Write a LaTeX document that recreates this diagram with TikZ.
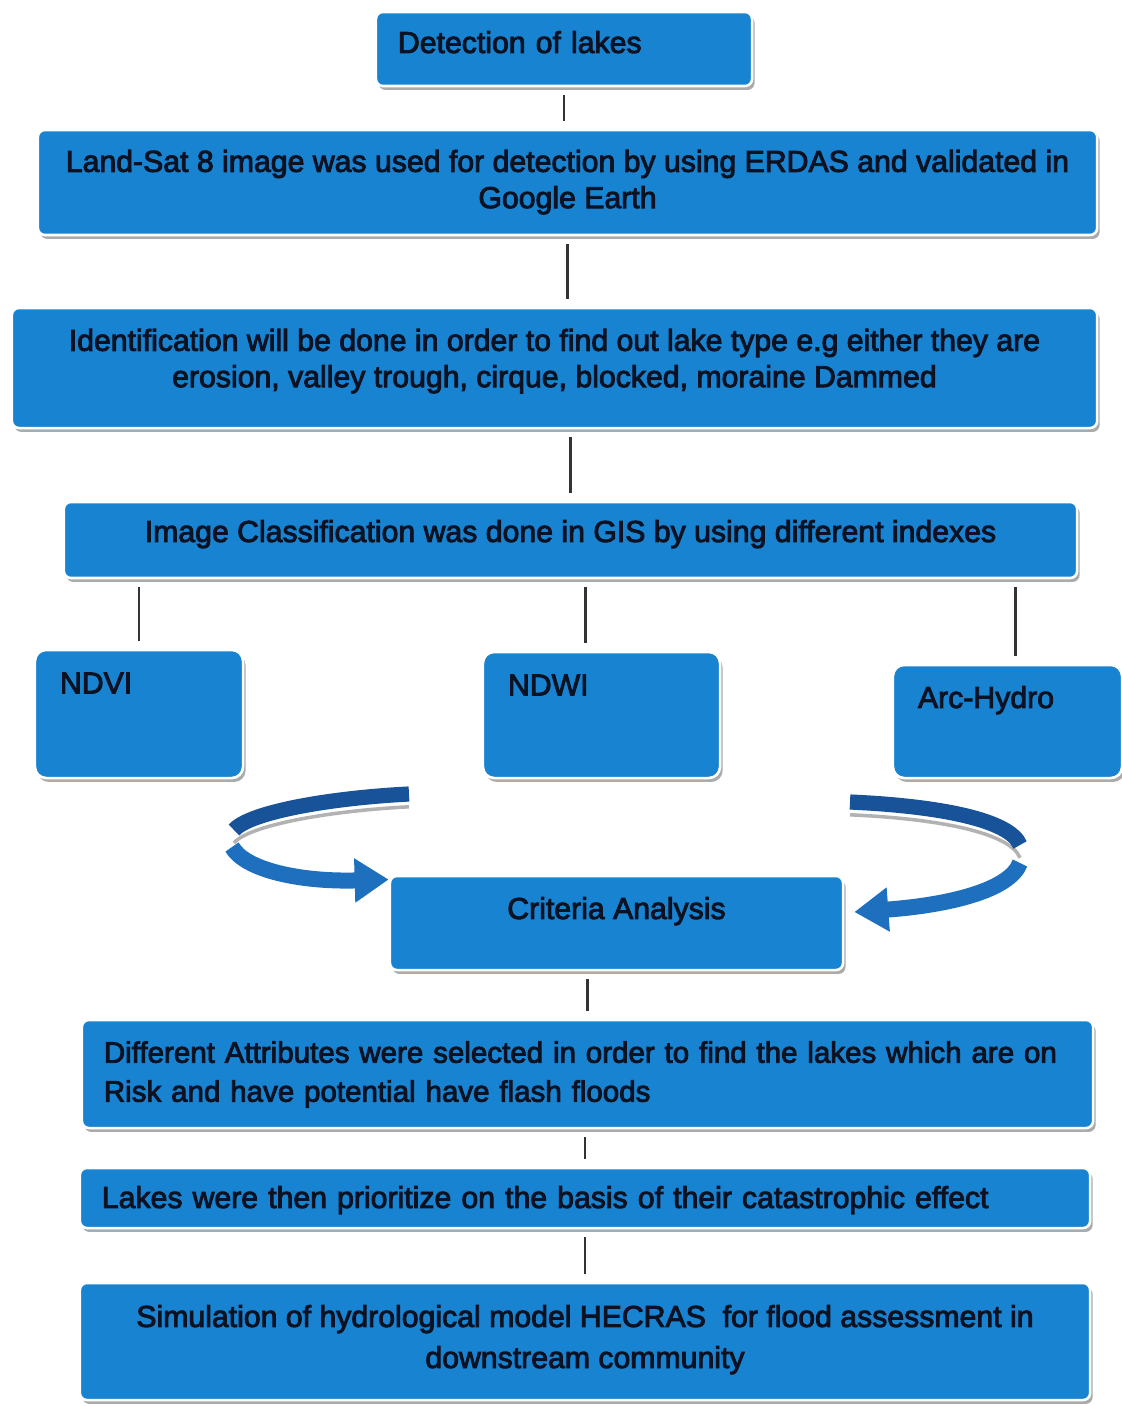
\documentclass[tikz,border=0pt]{standalone}
\usepackage{fontspec}
\setmainfont{Liberation Sans}[FakeBold=3]
\usetikzlibrary{arrows.meta, shadows}
\definecolor{flowblue}{RGB}{24,131,208}
\definecolor{arcdark}{RGB}{24,82,152}
\definecolor{arclight}{RGB}{30,112,190}
\definecolor{inkdark}{RGB}{12,18,34}

\begin{document}
\begin{tikzpicture}[
  x=0.025cm, y=-0.025cm,
  stage/.style={rectangle, rounded corners=5pt, draw=white, line width=1.8pt, fill=flowblue,
                drop shadow={shadow xshift=1.8pt, shadow yshift=-2.8pt, fill=black!55, opacity=0.6},
                text=inkdark, font=\fontsize{21.5}{25.8}\selectfont, align=center, inner sep=0pt},
  lstage/.style={stage, align=left, inner xsep=0.55cm},
  method/.style={stage, align=left, inner xsep=0.625cm, rounded corners=8pt},
  link/.style={line width=1.8pt, color=black!80, shorten <=0.2cm, shorten >=0.2cm},
  ribdark/.style={line width=0.38cm, color=arcdark},
  riblight/.style={line width=0.4cm, color=arclight, -{Triangle[length=0.85cm, width=1.05cm]}},
  ribshade/.style={line width=2.5pt, color=black!30, transform canvas={yshift=-0.32cm}}
]
  \useasboundingbox[fill=white] (0,0) rectangle (1122,1406);

  \node[lstage, text width=8.3cm, minimum height=1.85cm, text depth=0.35cm] (det) at (564,49) {Detection of lakes};
  \node[stage, minimum width=26.475cm, minimum height=2.625cm, text depth=0.175cm] (land) at (567.5,182.5)
    {Land-Sat 8 image was used for detection by using ERDAS and validated in\\Google Earth};
  \node[stage, minimum width=27.125cm, minimum height=3cm, text depth=0.5cm] (ident) at (554.5,368)
    {Identification will be done in order to find out lake type e.g either they are\\erosion, valley trough, cirque, blocked, moraine Dammed};
  \node[stage, minimum width=25.325cm, minimum height=1.9cm, text depth=0.45cm] (class) at (570.5,540)
    {Image Classification was done in GIS by using different indexes};

  \node[method, text width=3.95cm, minimum height=3.2cm, text depth=1.55cm] (ndvi) at (139,714) {NDVI};
  \node[method, text width=4.675cm, minimum height=3.15cm, text depth=1.5cm] (ndwi) at (601.5,715) {NDWI};
  \node[method, text width=4.475cm, minimum height=2.825cm, text depth=1.225cm] (arc) at (1007.5,721.5) {Arc-Hydro};

  \node[stage, minimum width=11.325cm, minimum height=2.35cm, text depth=0.75cm] (crit) at (616.5,923) {Criteria Analysis};
  \node[lstage, text width=24.175cm, minimum height=2.7cm, text depth=1.1cm, font=\fontsize{21}{27.7}\selectfont] (diff) at (587.5,1074)
    {Different Attributes were selected in order to find the lakes which are on\\Risk and have potential have flash floods};
  \node[lstage, text width=24.15cm, minimum height=1.5cm, text depth=0.05cm] (lakes) at (585,1198)
    {Lakes were then prioritize on the basis of their catastrophic effect};
  \node[stage, minimum width=25.25cm, minimum height=2.925cm, text depth=0.25cm, font=\fontsize{21.5}{29.2}\selectfont] (sim) at (585,1341.5)
    {Simulation of hydrological model HECRAS\ \ for flood assessment in\\downstream community};

  \draw[link] (det.south) -- (det.south |- land.north);
  \draw[link] (land.south) -- (land.south |- ident.north);
  \draw[link] (ident.south -| class.north) -- (class.north);
  \draw[link] (ndvi.north |- class.south) -- (ndvi.north);
  \draw[link] ([xshift=-0.4cm]ndwi.north |- class.south) -- ([xshift=-0.4cm]ndwi.north);
  \draw[link] ([xshift=0.2cm]arc.north |- class.south) -- ([xshift=0.2cm]arc.north);
  \draw[link] (crit.south -| diff.north) -- (diff.north);
  \draw[link] (lakes.north |- diff.south) -- (lakes.north);
  \draw[link] (lakes.south) -- (sim.north);

  \coordinate (lstart) at (409,794);
  \coordinate (lturn)  at (234,830);
  \coordinate (lback)  at (232,847);
  \coordinate (rstart) at (850,802);
  \coordinate (rturn)  at (1020,845);
  \coordinate (rback)  at (1020,863);

  \draw[ribshade] (lstart) .. controls (330,798) and (250,812) .. (lturn);
  \draw[ribshade] (rstart) .. controls (940,806) and (1010,820) .. (rturn);
  \draw[ribdark] (lstart) .. controls (330,798) and (250,812) .. (lturn);
  \draw[riblight] (lback) .. controls (245,870) and (300,882) .. ([yshift=-0.12cm]crit.north west);
  \draw[ribdark] (rstart) .. controls (940,806) and (1010,820) .. (rturn);
  \draw[riblight] (rback) .. controls (1010,890) and (950,905) .. ([shift={(0.25cm,0.275cm)}]crit.east);
\end{tikzpicture}
\end{document}
